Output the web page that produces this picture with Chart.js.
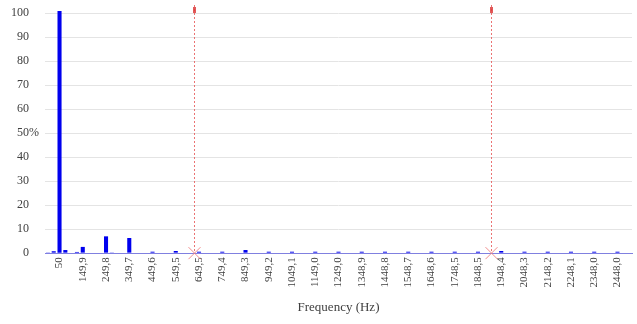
<!DOCTYPE html>
<html>
<head>
<meta charset="utf-8">
<script src="https://cdn.jsdelivr.net/npm/chart.js@4"></script>
<style>
  html, body { margin: 0; padding: 0; background: #fff; }
  #wrap { width: 637px; height: 324px; position: relative; }
</style>
</head>
<body>
<div id="wrap"><canvas id="chart"></canvas></div>
<script>
// x tick labels, one every 4 bins starting at bin 2 (50 Hz)
const tickLabels = [
  "50", "149,9", "249,8", "349,7", "449,6", "549,5", "649,5", "749,4",
  "849,3", "949,2", "1049,1", "1149,0", "1249,0", "1348,9", "1448,8",
  "1548,7", "1648,6", "1748,5", "1848,5", "1948,4", "2048,3", "2148,2",
  "2248,1", "2348,0", "2448,0",
];

// spectrum amplitude (% of fundamental), 25 Hz bins
const barValues = [
  0.3, 0.8, 100.8, 1.3, 0.2, 0.5, 2.6, 0.2, 0.2, 0.2,
  7.0, 0.3, 0, 0, 6.3, 0.2, 0, 0, 0.6, 0,
  0, 0, 0.9, 0, 0, 0, 0.6, 0, 0, 0,
  0.6, 0, 0, 0, 1.3, 0, 0, 0, 0.6, 0,
  0, 0, 0.6, 0, 0, 0, 0.6, 0, 0, 0,
  0.6, 0, 0, 0, 0.6, 0, 0, 0, 0.6, 0,
  0, 0, 0.6, 0, 0, 0, 0.6, 0, 0, 0,
  0.6, 0, 0, 0, 0.6, 0, 0, 0, 0.9, 0,
  0, 0, 0.6, 0, 0, 0, 0.6, 0, 0, 0,
  0.6, 0, 0, 0, 0.6, 0, 0, 0, 0.6, 0,
  0,
];

// red dashed marker lines, in bin positions
const markerBins = [25.1, 76.3];

const yTicks = [0, 10, 20, 30, 40, 50, 60, 70, 80, 90, 100];

const labels = barValues.map((_, i) => {
  if (i >= 2 && (i - 2) % 4 === 0) return tickLabels[(i - 2) / 4] || "";
  return "";
});

const serif = "'Liberation Serif', 'DejaVu Serif', serif";

// draws the vertical red lines and the % sign after 50
const extras = {
  id: "extras",
  afterDatasetsDraw(chart) {
    const ctx = chart.ctx;
    const x = chart.scales.x;
    const y = chart.scales.y;
    const top = chart.chartArea.top;
    const bottom = chart.chartArea.bottom;
    ctx.save();
    markerBins.forEach((b) => {
      const px = Math.round(x.getPixelForValue(b)) + 0.5;
      ctx.strokeStyle = "rgba(230,80,80,0.8)";
      ctx.lineWidth = 1;
      ctx.setLineDash([2, 2]);
      ctx.beginPath();
      ctx.moveTo(px, top - 8);
      ctx.lineTo(px, bottom);
      ctx.stroke();
      ctx.setLineDash([]);
      // top marker
      ctx.fillStyle = "rgba(220,60,60,0.85)";
      ctx.fillRect(px - 1.5, top - 6, 3, 6);
      // cross at the bottom
      ctx.strokeStyle = "rgba(240,130,130,0.9)";
      ctx.beginPath();
      ctx.moveTo(px - 6, bottom - 6);
      ctx.lineTo(px + 6, bottom + 6);
      ctx.moveTo(px + 6, bottom - 6);
      ctx.lineTo(px - 6, bottom + 6);
      ctx.stroke();
    });
    // the % after the 50 tick
    ctx.font = "12px " + serif;
    ctx.fillStyle = "#404040";
    ctx.textAlign = "left";
    ctx.textBaseline = "middle";
    const yl = y.getPixelForValue(50);
    ctx.fillText("%", x.left - 16, yl);
    ctx.restore();
  },
};

new Chart(document.getElementById("chart"), {
  type: "bar",
  data: {
    labels: labels,
    datasets: [
      {
        data: barValues,
        backgroundColor: "#0000ee",
        borderWidth: 0,
        barPercentage: 0.7,
        categoryPercentage: 1.0,
        clip: false,
      },
    ],
  },
  options: {
    responsive: true,
    maintainAspectRatio: false,
    animation: false,
    layout: { padding: { top: 13, right: 5, bottom: 9, left: 11 } },
    plugins: {
      legend: { display: false },
      tooltip: { enabled: false },
    },
    scales: {
      x: {
        afterFit: (axis) => {
          axis.paddingLeft = 0;
          axis.paddingRight = 0;
        },
        grid: { display: false, drawTicks: false },
        border: { display: true, color: "#8080e0", dash: [2, 3], width: 1 },
        ticks: {
          autoSkip: false,
          maxRotation: 90,
          minRotation: 90,
          padding: 4,
          color: "#404040",
          font: { family: serif, size: 11 },
        },
        title: {
          display: true,
          text: "Frequency (Hz)",
          color: "#404040",
          font: { family: serif, size: 13 },
          padding: { top: 8, bottom: 0 },
        },
      },
      y: {
        min: 0,
        max: 100,
        afterBuildTicks: (axis) => {
          axis.ticks = yTicks.map((v) => ({ value: v }));
        },
        afterFit: (axis) => {
          axis.width = 34;
          axis.paddingTop = 0;
          axis.paddingBottom = 0;
        },
        grid: {
          drawTicks: false,
          color: (c) => (c.tick && c.tick.value === 0 ? "rgba(0,0,0,0)" : "#e4e4e4"),
        },
        border: { display: false },
        ticks: {
          padding: 16,
          color: "#404040",
          font: { family: serif, size: 12 },
        },
      },
    },
  },
  plugins: [extras],
});
</script>
</body>
</html>
